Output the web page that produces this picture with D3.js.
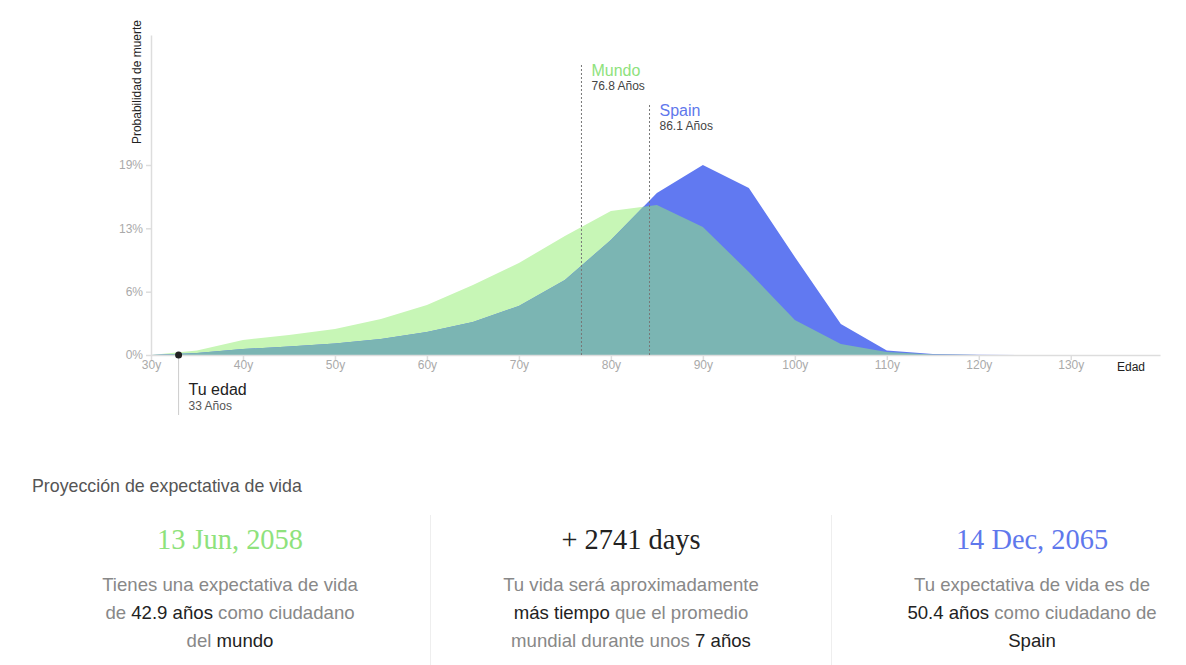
<!DOCTYPE html>
<html>
<head>
<meta charset="utf-8">
<script src="https://cdn.jsdelivr.net/npm/d3@7"></script>
<style>
  body { margin: 0; background: #fff; font-family: "Liberation Sans", Arial, sans-serif; }
  #wrap { position: relative; width: 1186px; height: 665px; overflow: hidden; }
  #chart { position: absolute; left: 0; top: 0; }
  .title { position: absolute; left: 32px; top: 476px; font-size: 17.8px; color: #555; }
  .col { position: absolute; top: 515px; width: 400px; height: 150px; text-align: center; }
  .col.sep { border-left: 1px solid #eee; }
  .big { font-family: "Liberation Serif", "Times New Roman", serif; font-size: 28.4px; line-height: 30px; margin-top: 10px; }
  .desc { font-size: 18.6px; line-height: 28px; color: #888; margin-top: 16px; }
  .desc b { font-weight: normal; color: #222; }
</style>
</head>
<body>
<div id="wrap">
  <svg id="chart" width="1186" height="460"></svg>
  <div class="title">Proyección de expectativa de vida</div>
  <div class="col" style="left:30px">
    <div class="big" style="color:#8ee27c">13 Jun, 2058</div>
    <div class="desc">Tienes una expectativa de vida<br>de <b>42.9 años</b> como ciudadano<br>del <b>mundo</b></div>
  </div>
  <div class="col sep" style="left:430px">
    <div class="big" style="color:#222">+ 2741 days</div>
    <div class="desc">Tu vida será aproximadamente<br><b>más tiempo</b> que el promedio<br>mundial durante unos <b>7 años</b></div>
  </div>
  <div class="col sep" style="left:831px">
    <div class="big" style="color:#5f78ec">14 Dec, 2065</div>
    <div class="desc">Tu expectativa de vida es de<br><b>50.4 años</b> como ciudadano de<br><b>Spain</b></div>
  </div>
</div>
<script>
// ---- data ----
const ages = [30, 35, 40, 45, 50, 55, 60, 65, 70, 75, 80, 85, 90, 95, 100, 105, 110, 115, 120, 125, 130];
// probability of death per age group, in %
const mundo = [0, 0.45, 1.5, 2.0, 2.6, 3.6, 5.0, 7.0, 9.2, 11.9, 14.4, 15.0, 12.8, 8.3, 3.5, 1.1, 0.3, 0.05, 0.01, 0, 0];
const spain = [0, 0.2, 0.6, 0.85, 1.15, 1.6, 2.3, 3.3, 4.9, 7.5, 11.5, 16.2, 19.0, 16.7, 9.8, 3.1, 0.45, 0.1, 0.02, 0, 0];

const xTicks = [30, 40, 50, 60, 70, 80, 90, 100, 110, 120, 130];
const yTicks = [0, 0.0633, 0.1267, 0.19];

const userAge = 33;
const markerNames = ["Mundo", "Spain"];
const markerAges = [76.8, 84.2];
const markerLabels = ["76.8 Años", "86.1 Años"];

const GREEN = "#c7f6b6", BLUE = "#6179f1", TEAL = "#7bb5b3";
const GREEN_TXT = "#8ee27c", BLUE_TXT = "#5f78ec";
const FONT = "Liberation Sans, Arial, sans-serif";

const svg = d3.select("#chart").attr("font-family", FONT);

const x = d3.scaleLinear().domain([30, 139.7]).range([151, 1160]);
const y = d3.scaleLinear().domain([0, 0.32]).range([355, 35]);

const rows = ages.map((a, i) => ({ age: a, m: mundo[i] / 100, s: spain[i] / 100 }));

const area = (acc) => d3.area()
  .x(d => x(d.age))
  .y0(y(0))
  .y1(d => y(acc(d)));

// split segments so the overlap (min of both) is exact at the crossing
const dense = [];
rows.forEach((d, i) => {
  dense.push(d);
  const n = rows[i + 1];
  if (!n) return;
  const d0 = d.m - d.s, d1 = n.m - n.s;
  if (d0 * d1 < 0) {
    const t = d0 / (d0 - d1);
    dense.push({
      age: d.age + t * (n.age - d.age),
      m: d.m + t * (n.m - d.m),
      s: d.s + t * (n.s - d.s)
    });
  }
});

svg.append("path").datum(dense).attr("fill", GREEN).attr("d", area(d => d.m));
svg.append("path").datum(dense).attr("fill", BLUE).attr("d", area(d => d.s));
svg.append("path").datum(dense).attr("fill", TEAL).attr("d", area(d => Math.min(d.m, d.s)));

// ---- axes ----
const xAxis = svg.append("g")
  .attr("transform", `translate(0,${y(0)})`)
  .call(d3.axisBottom(x).tickValues(xTicks).tickSize(5).tickSizeOuter(0).tickFormat(d => d + "y"));
xAxis.attr("font-family", FONT);
xAxis.select(".domain").attr("stroke", "#ddd").attr("stroke-width", 1.5);
xAxis.selectAll(".tick line").attr("stroke", "#ddd").attr("stroke-width", 1.5);
xAxis.selectAll(".tick text")
  .attr("fill", "#aaa").attr("font-size", 12).attr("dy", "0.5em");

const yAxis = svg.append("g")
  .attr("transform", `translate(${x(30)},0)`)
  .call(d3.axisLeft(y).tickValues(yTicks).tickSize(5).tickSizeOuter(0).tickFormat(d3.format(".0%")));
yAxis.attr("font-family", FONT);
yAxis.select(".domain").attr("stroke", "#ddd").attr("stroke-width", 1.5);
yAxis.selectAll(".tick line").attr("stroke", "#ddd").attr("stroke-width", 1.5);
yAxis.selectAll(".tick text")
  .attr("fill", "#aaa").attr("font-size", 12);

svg.append("text")
  .attr("transform", `translate(141,20) rotate(-90)`)
  .attr("text-anchor", "end")
  .attr("font-size", 12)
  .attr("fill", "#222")
  .text("Probabilidad de muerte");

svg.append("text")
  .attr("x", 1117).attr("y", 371)
  .attr("font-size", 12)
  .attr("fill", "#222")
  .text("Edad");

// ---- expectancy markers ----
const markerTop = [65, 105];
const markerColors = [GREEN_TXT, BLUE_TXT];
markerAges.forEach((a, i) => {
  svg.append("line")
    .attr("x1", x(a)).attr("x2", x(a))
    .attr("y1", markerTop[i]).attr("y2", y(0))
    .attr("stroke", "#777").attr("stroke-width", 1)
    .attr("stroke-dasharray", "2,2");
  svg.append("text")
    .attr("x", x(a) + 10).attr("y", markerTop[i] + 11)
    .attr("font-size", 16).attr("fill", markerColors[i])
    .text(markerNames[i]);
  svg.append("text")
    .attr("x", x(a) + 10).attr("y", markerTop[i] + 25)
    .attr("font-size", 12).attr("fill", "#444")
    .text(markerLabels[i]);
});

// ---- user age ----
svg.append("line")
  .attr("x1", x(userAge)).attr("x2", x(userAge))
  .attr("y1", y(0)).attr("y2", 415)
  .attr("stroke", "#ccc").attr("stroke-width", 1);
svg.append("circle")
  .attr("cx", x(userAge)).attr("cy", y(0)).attr("r", 3.5)
  .attr("fill", "#222");
svg.append("text")
  .attr("x", x(userAge) + 10).attr("y", 395)
  .attr("font-size", 16).attr("fill", "#222")
  .text("Tu edad");
svg.append("text")
  .attr("x", x(userAge) + 10).attr("y", 410)
  .attr("font-size", 12).attr("fill", "#555")
  .text(userAge + " Años");
</script>
</body>
</html>
